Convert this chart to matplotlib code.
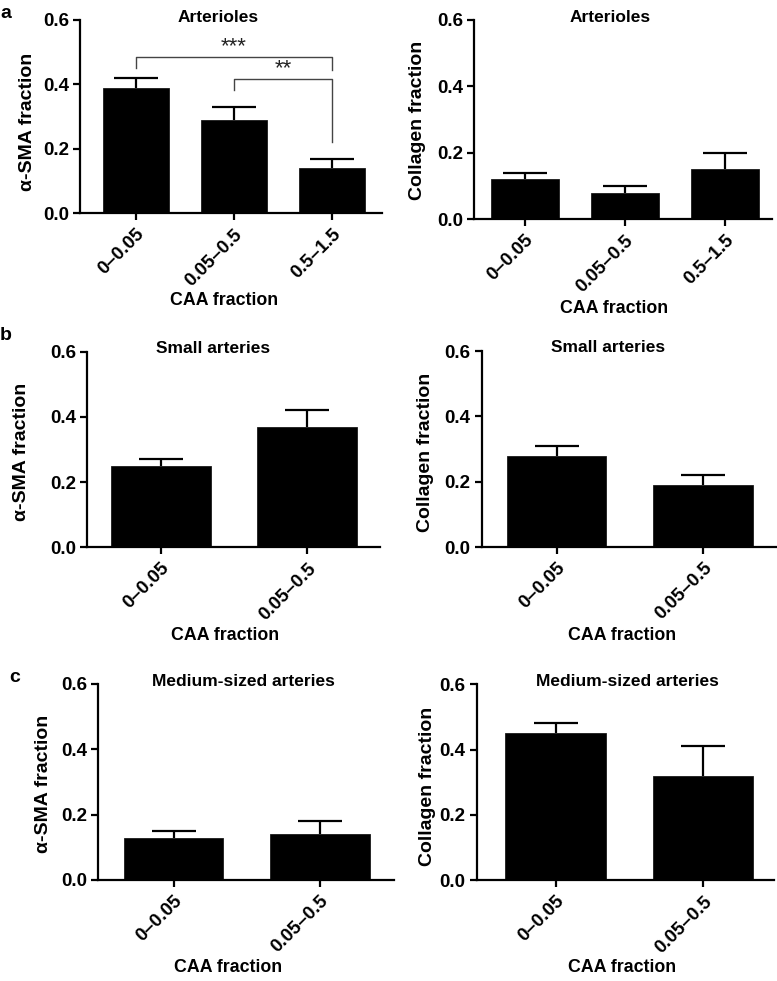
import matplotlib
matplotlib.use("Agg")
import matplotlib.pyplot as plt
from matplotlib.transforms import ScaledTranslation
import numpy as np

plt.rcParams['font.family'] = ['Liberation Sans', 'DejaVu Sans']
plt.rcParams['font.weight'] = 'bold'

# ---------------- data ----------------
cats3 = ["0\u20130.05", "0.05\u20130.5", "0.5\u20131.5"]
cats2 = ["0\u20130.05", "0.05\u20130.5"]

art_sma = [0.39, 0.29, 0.14]
art_sma_err = [0.03, 0.04, 0.03]
art_col = [0.12, 0.08, 0.15]
art_col_err = [0.02, 0.02, 0.05]

small_sma = [0.25, 0.37]
small_sma_err = [0.02, 0.05]
small_col = [0.28, 0.19]
small_col_err = [0.03, 0.03]

med_sma = [0.13, 0.14]
med_sma_err = [0.02, 0.04]
med_col = [0.45, 0.32]
med_col_err = [0.03, 0.09]

titles = ["Arterioles", "Small arteries", "Medium-sized arteries"]
ylabels = ["\u03b1-SMA fraction", "Collagen fraction"]
xlabel = "CAA fraction"
yticks = [0.0, 0.2, 0.4, 0.6]

W, H = 777, 981
fig = plt.figure(figsize=(W / 100, H / 100), dpi=100)


def add_ax(x0, x1, ytop, ybot):
    return fig.add_axes([x0 / W, 1 - ybot / H, (x1 - x0) / W, (ybot - ytop) / H])


def px_to_ax(ax_box, px, py):
    x0, x1, ytop, ybot = ax_box
    return (px - x0) / (x1 - x0), (ybot - py) / (ybot - ytop)


panels = [
    dict(box=(80, 381.7, 20, 213.3), xlim=(-0.571, 2.507), cats=cats3, vals=art_sma, errs=art_sma_err,
         title=titles[0], ylabel=ylabels[0], tpos=(218, 17), xlpos=(224, 301), ylpos=(28, 122)),
    dict(box=(474.3, 771.7, 20, 219.3), xlim=(-0.507, 2.467), cats=cats3, vals=art_col, errs=art_col_err,
         title=titles[0], ylabel=ylabels[1], tpos=(610, 17), xlpos=(614, 308), ylpos=(417, 120)),
    dict(box=(87.3, 380, 351.7, 547.3), xlim=(-0.5, 1.495), cats=cats2, vals=small_sma, errs=small_sma_err,
         title=titles[1], ylabel=ylabels[0], tpos=(213, 348), xlpos=(225, 635), ylpos=(22, 452)),
    dict(box=(481.7, 776.7, 351, 547), xlim=(-0.51, 1.50), cats=cats2, vals=small_col, errs=small_col_err,
         title=titles[1], ylabel=ylabels[1], tpos=(608, 348), xlpos=(622, 635), ylpos=(426, 452)),
    dict(box=(98.3, 393.6, 684, 880), xlim=(-0.515, 1.503), cats=cats2, vals=med_sma, errs=med_sma_err,
         title=titles[2], ylabel=ylabels[0], tpos=(243, 681), xlpos=(228, 967), ylpos=(43, 784)),
    dict(box=(476.7, 774, 684.3, 880.3), xlim=(-0.534, 1.48), cats=cats2, vals=med_col, errs=med_col_err,
         title=titles[2], ylabel=ylabels[1], tpos=(627, 681), xlpos=(622, 968), ylpos=(427, 786)),
]

FS_TICK = 13.5
FS_TITLE = 12.5
FS_XLAB = 12.8
FS_YLAB = 14
axes = []
shift = ScaledTranslation(5 / 100, -2 / 100, fig.dpi_scale_trans)
for p in panels:
    ax = add_ax(*p["box"])
    axes.append(ax)
    n = len(p["cats"])
    x = np.arange(n)
    ax.bar(x, p["vals"], width=0.68, color="black", edgecolor="#1a1a1a", linewidth=0.6, zorder=2)
    eb = ax.errorbar(x, p["vals"], yerr=[np.zeros(n), p["errs"]], fmt="none", ecolor="black",
                     elinewidth=1.6, capsize=16, capthick=1.6, zorder=3)
    for cl in eb[1]:
        if np.allclose(cl.get_ydata(), p["vals"]):
            cl.set_visible(False)
    ax.set_xlim(*p["xlim"])
    ax.set_ylim(0, 0.6)
    ax.set_yticks(yticks)
    ax.set_yticklabels([f"{t:.1f}" for t in yticks], fontsize=FS_TICK, fontweight="bold")
    ax.set_xticks(x)
    ax.set_xticklabels(p["cats"], rotation=45, ha="right", va="top", rotation_mode="anchor",
                       fontsize=FS_TICK, fontweight="bold")
    for lab in ax.get_xticklabels():
        lab.set_transform(lab.get_transform() + shift)
    for s in ["top", "right"]:
        ax.spines[s].set_visible(False)
    for s in ["left", "bottom"]:
        ax.spines[s].set_linewidth(1.6)
    ax.tick_params(axis="both", direction="out", length=5, width=1.6, color="black")
    ax.tick_params(axis="x", pad=4)
    ax.tick_params(axis="y", pad=3)

    tx, ty = px_to_ax(p["box"], *p["tpos"])
    ax.text(tx, ty, p["title"], transform=ax.transAxes, ha="center", va="center",
            fontsize=FS_TITLE, fontweight="bold")
    ax.set_xlabel(xlabel, fontsize=FS_XLAB, fontweight="bold")
    lx, ly = px_to_ax(p["box"], *p["xlpos"])
    ax.xaxis.set_label_coords(lx, ly)
    ax.xaxis.label.set_va("center")
    ax.set_ylabel(p["ylabel"], fontsize=FS_YLAB, fontweight="bold")
    yx, yy = px_to_ax(p["box"], *p["ylpos"])
    ax.yaxis.set_label_coords(yx, yy)
    ax.yaxis.label.set_va("center")

# significance brackets on arteriole alpha-SMA panel
ax = axes[0]
br_col = "#444444"
b1_y, b1_l, b1_r = 0.486, 0.45, 0.445
ax.plot([0, 0, 2, 2], [b1_l, b1_y, b1_y, b1_r], color=br_col, lw=1.0, clip_on=False, zorder=4)
ax.text(1, b1_y - 0.002, "***", ha="center", va="bottom", fontsize=16, color="#222222",
        fontweight="normal")
b2_y, b2_l, b2_r = 0.417, 0.383, 0.222
ax.plot([1, 1, 2, 2], [b2_l, b2_y, b2_y, b2_r], color=br_col, lw=1.0, clip_on=False, zorder=4)
ax.text(1.5, b2_y - 0.002, "**", ha="center", va="bottom", fontsize=16, color="#222222",
        fontweight="normal")

# panel letters
for lab, (px, py) in zip(["a", "b", "c"], [(6, 13), (6, 335), (15, 678)]):
    fig.text(px / W, 1 - py / H, lab, ha="center", va="center", fontsize=14, fontweight="bold")

fig.savefig("out.png", dpi=100)
